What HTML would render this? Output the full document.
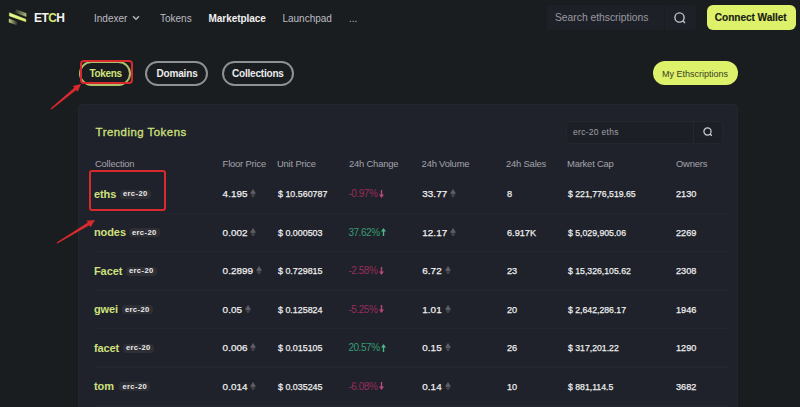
<!DOCTYPE html><html><head><meta charset="utf-8"><style>
*{margin:0;padding:0;box-sizing:border-box}
html,body{width:800px;height:407px;overflow:hidden;background:#1a1d20;font-family:"Liberation Sans",sans-serif}
.t{position:absolute;line-height:1;white-space:nowrap}
.abs{position:absolute}
.eth{position:absolute}
</style></head><body>
<svg class="abs" style="left:7px;top:8px" width="22" height="19" viewBox="0 0 22 19">
<defs>
<linearGradient id="gt" x1="0" y1="0" x2="1" y2="0"><stop offset="0" stop-color="#b8c470" stop-opacity="0.05"/><stop offset="0.5" stop-color="#b8c47a" stop-opacity="0.5"/><stop offset="1" stop-color="#c8d490" stop-opacity="0.8"/></linearGradient>
<linearGradient id="gb" x1="0" y1="0" x2="1" y2="0"><stop offset="0" stop-color="#d8e888" stop-opacity="0.9"/><stop offset="0.6" stop-color="#b0bc7a" stop-opacity="0.5"/><stop offset="1" stop-color="#a8b078" stop-opacity="0.1"/></linearGradient>
<linearGradient id="gm" x1="0" y1="0" x2="1" y2="0"><stop offset="0" stop-color="#eaf890"/><stop offset="1" stop-color="#def270"/></linearGradient>
</defs>
<path d="M9.2 1.8 L19.1 5.4 L19.1 8.4 L7.8 4.2 Z" fill="url(#gt)" stroke="url(#gt)" stroke-width="0.6" stroke-linejoin="round"/>
<path d="M2.4 4.8 L18.9 11.3 L18.9 13.8 L2.3 8.0 Z" fill="url(#gm)" stroke="#e2f47a" stroke-width="0.4" stroke-linejoin="round"/>
<path d="M2.2 10.9 L10.4 14.2 L9.6 16.8 L2.2 14.2 Z" fill="url(#gb)" stroke="url(#gb)" stroke-width="0.6" stroke-linejoin="round"/>
</svg>
<div class="t" style="left:34px;top:11.59px;font-size:12px;color:#f2f2f2;font-weight:700;letter-spacing:-0.6px">ET<span style="color:#d6ea6c">C</span>H</div>
<div class="t" style="left:94px;top:13.54px;font-size:10px;color:#bcbcc1;font-weight:400;">Indexer</div>
<svg class="abs" style="left:132px;top:15.3px" width="8" height="6" viewBox="0 0 8 6"><path d="M1 1.2 L4 4.2 L7 1.2" stroke="#b4b4b9" stroke-width="1.5" fill="none"/></svg>
<div class="t" style="left:160px;top:13.54px;font-size:10px;color:#bcbcc1;font-weight:400;">Tokens</div>
<div class="t" style="left:208.5px;top:13.54px;font-size:10px;color:#f0f0f0;font-weight:700;letter-spacing:-0.05px">Marketplace</div>
<div class="t" style="left:282.4px;top:13.54px;font-size:10px;color:#bcbcc1;font-weight:400;">Launchpad</div>
<div class="t" style="left:349px;top:13.54px;font-size:10px;color:#bcbcc1;font-weight:400;">...</div>
<div class="abs" style="left:547px;top:4.6px;width:149px;height:25.4px;background:#1e2028;border-radius:3px"></div>
<div class="abs" style="left:664px;top:4.6px;width:1px;height:25.4px;background:#1a1c22"></div>
<div class="t" style="left:555px;top:12.88px;font-size:10.3px;color:#9a9aa0;font-weight:400;">Search ethscriptions</div>
<svg class="abs" style="left:673px;top:11px" width="14" height="14" viewBox="0 0 14 14"><circle cx="6.5" cy="6.5" r="4.6" stroke="#c4c4c8" stroke-width="1.4" fill="none"/><path d="M9.8 9.8 L12 12" stroke="#c4c4c8" stroke-width="1.5"/></svg>
<div class="abs" style="left:707px;top:5px;width:89px;height:25px;background:#ddf16a;border-radius:6px"></div>
<div class="t" style="left:714.8px;top:13.35px;font-size:10.1px;color:#191a14;font-weight:700;letter-spacing:-0.05px;-webkit-text-stroke:0.15px #191a14">Connect Wallet</div>
<div class="abs" style="left:79px;top:61px;width:51.5px;height:25.3px;border:2px solid #b0c06a;border-radius:13px"></div>
<div class="t" style="left:89.4px;top:69.13px;font-size:10px;color:#d2e47a;font-weight:700;letter-spacing:-0.3px">Tokens</div>
<div class="abs" style="left:145px;top:60.7px;width:63.2px;height:25.6px;border:2px solid #8f9094;border-radius:13px"></div>
<div class="t" style="left:156.4px;top:68.94px;font-size:10px;color:#ececec;font-weight:700;letter-spacing:-0.15px">Domains</div>
<div class="abs" style="left:221.5px;top:60.7px;width:72.8px;height:25.6px;border:2px solid #8f9094;border-radius:13px"></div>
<div class="t" style="left:232px;top:68.94px;font-size:10px;color:#ececec;font-weight:700;letter-spacing:-0.2px">Collections</div>
<div class="abs" style="left:652.7px;top:61.2px;width:85.6px;height:24.3px;background:#ddf16a;border-radius:12px"></div>
<div class="t" style="left:662px;top:70.08px;font-size:9px;color:#3a4022;font-weight:400;">My Ethscriptions</div>
<div class="abs" style="left:78.2px;top:104px;width:660.3px;height:320px;background:#1f222a;border:1.5px solid #24272f;border-radius:4px"></div>
<div class="t" style="left:95.6px;top:126.55px;font-size:11.4px;color:#cfe07e;font-weight:400;letter-spacing:0.5px;-webkit-text-stroke:0.32px #cfe07e">Trending Tokens</div>
<div class="abs" style="left:566px;top:120.5px;width:156.5px;height:23.3px;background:#1c1f26;border:1px solid #23262d;border-radius:3px"></div>
<div class="abs" style="left:693px;top:121px;width:1px;height:22.5px;background:#262830"></div>
<div class="t" style="left:573px;top:127.80px;font-size:8.5px;color:#a0a1a8;font-weight:400;letter-spacing:0.3px">erc-20 eths</div>
<svg class="abs" style="left:702px;top:126px" width="12" height="12" viewBox="0 0 12 12"><circle cx="5.5" cy="5.5" r="3.6" stroke="#d0d0d4" stroke-width="1.2" fill="none"/><path d="M8 8 L9.8 9.8" stroke="#d0d0d4" stroke-width="1.3"/></svg>
<div class="t" style="left:95px;top:158.94px;font-size:9.4px;color:#a4a4ac;font-weight:400;letter-spacing:-0.18px">Collection</div>
<div class="t" style="left:222.6px;top:158.94px;font-size:9.4px;color:#a4a4ac;font-weight:400;letter-spacing:-0.18px">Floor Price</div>
<div class="t" style="left:277px;top:158.94px;font-size:9.4px;color:#a4a4ac;font-weight:400;letter-spacing:-0.18px">Unit Price</div>
<div class="t" style="left:349px;top:158.94px;font-size:9.4px;color:#a4a4ac;font-weight:400;letter-spacing:-0.18px">24h Change</div>
<div class="t" style="left:421.6px;top:158.94px;font-size:9.4px;color:#a4a4ac;font-weight:400;letter-spacing:-0.18px">24h Volume</div>
<div class="t" style="left:506px;top:158.94px;font-size:9.4px;color:#a4a4ac;font-weight:400;letter-spacing:-0.18px">24h Sales</div>
<div class="t" style="left:567px;top:158.94px;font-size:9.4px;color:#a4a4ac;font-weight:400;letter-spacing:-0.18px">Market Cap</div>
<div class="t" style="left:676px;top:158.94px;font-size:9.4px;color:#a4a4ac;font-weight:400;letter-spacing:-0.18px">Owners</div>
<div class="abs" style="left:95px;top:212.5px;width:633px;height:1.5px;background:#23262e"></div>
<div class="t" style="left:94px;top:188.89px;font-size:11px;color:#cfe07e;font-weight:700;letter-spacing:-0.1px">eths</div>
<div class="abs" style="left:119.5px;top:189.9px;width:31px;height:9px;background:#2e2f35;border-radius:3.5px"></div>
<div class="t" style="left:122.9px;top:190.47px;font-size:7.6px;color:#ececec;font-weight:700;letter-spacing:0.4px">erc-20</div>
<div class="t" style="left:222.6px;top:189.42px;font-size:9.9px;color:#efeff0;font-weight:400;letter-spacing:0.05px;-webkit-text-stroke:0.25px #efeff0">4.195<svg style="display:inline-block;margin-left:2.7px;vertical-align:-0.5px" width="6" height="8.5" viewBox="0 0 6 9"><path d="M3 0 L6 4.6 L3 6.2 L0 4.6 Z" fill="#5c5d63"/><path d="M3 6.8 L6 5.2 L3 9 L0 5.2 Z" fill="#4c4d53"/></svg></div>
<div class="t" style="left:277.6px;top:189.42px;font-size:9.9px;color:#efeff0;font-weight:400;transform:scaleX(0.9);transform-origin:0 0;-webkit-text-stroke:0.25px #efeff0">$ 10.560787</div>
<div class="t" style="left:348.4px;top:189.34px;font-size:10px;color:#982d5c;font-weight:400;letter-spacing:-0.45px">-0.97%<svg style="display:inline-block;margin-left:1.6px;vertical-align:-0.5px" width="5" height="8" viewBox="0 0 5 8"><path d="M1.8 0 H3.2 V4.4 H5 L2.5 8 L0 4.4 H1.8 Z" fill="#b8487c"/></svg></div>
<div class="t" style="left:422.2px;top:189.42px;font-size:9.9px;color:#efeff0;font-weight:400;letter-spacing:0.1px;-webkit-text-stroke:0.25px #efeff0">33.77<svg style="display:inline-block;margin-left:2.7px;vertical-align:-0.5px" width="6" height="8.5" viewBox="0 0 6 9"><path d="M3 0 L6 4.6 L3 6.2 L0 4.6 Z" fill="#5c5d63"/><path d="M3 6.8 L6 5.2 L3 9 L0 5.2 Z" fill="#4c4d53"/></svg></div>
<div class="t" style="left:506.6px;top:189.42px;font-size:9.9px;color:#efeff0;font-weight:400;transform:scaleX(0.927);transform-origin:0 0;-webkit-text-stroke:0.25px #efeff0">8</div>
<div class="t" style="left:568.2px;top:189.42px;font-size:9.9px;color:#efeff0;font-weight:400;transform:scaleX(0.88);transform-origin:0 0;-webkit-text-stroke:0.25px #efeff0">$ 221,776,519.65</div>
<div class="t" style="left:675.8px;top:189.42px;font-size:9.9px;color:#efeff0;font-weight:400;transform:scaleX(0.927);transform-origin:0 0;-webkit-text-stroke:0.25px #efeff0">2130</div>
<div class="abs" style="left:95px;top:250.8px;width:633px;height:1.5px;background:#23262e"></div>
<div class="t" style="left:94px;top:227.19px;font-size:11px;color:#cfe07e;font-weight:700;letter-spacing:-0.1px">nodes</div>
<div class="abs" style="left:128.5px;top:228.20000000000002px;width:31px;height:9px;background:#2e2f35;border-radius:3.5px"></div>
<div class="t" style="left:131.9px;top:228.77px;font-size:7.6px;color:#ececec;font-weight:700;letter-spacing:0.4px">erc-20</div>
<div class="t" style="left:222.6px;top:227.72px;font-size:9.9px;color:#efeff0;font-weight:400;letter-spacing:0.05px;-webkit-text-stroke:0.25px #efeff0">0.002<svg style="display:inline-block;margin-left:2.7px;vertical-align:-0.5px" width="6" height="8.5" viewBox="0 0 6 9"><path d="M3 0 L6 4.6 L3 6.2 L0 4.6 Z" fill="#5c5d63"/><path d="M3 6.8 L6 5.2 L3 9 L0 5.2 Z" fill="#4c4d53"/></svg></div>
<div class="t" style="left:277.6px;top:227.72px;font-size:9.9px;color:#efeff0;font-weight:400;transform:scaleX(0.9);transform-origin:0 0;-webkit-text-stroke:0.25px #efeff0">$ 0.000503</div>
<div class="t" style="left:348.4px;top:227.64px;font-size:10px;color:#369c74;font-weight:400;letter-spacing:-0.45px">37.62%<svg style="display:inline-block;margin-left:1.6px;vertical-align:-0.5px" width="5" height="8" viewBox="0 0 5 8"><path d="M1.8 8 H3.2 V3.6 H5 L2.5 0 L0 3.6 H1.8 Z" fill="#48b888"/></svg></div>
<div class="t" style="left:422.2px;top:227.72px;font-size:9.9px;color:#efeff0;font-weight:400;letter-spacing:0.1px;-webkit-text-stroke:0.25px #efeff0">12.17<svg style="display:inline-block;margin-left:2.7px;vertical-align:-0.5px" width="6" height="8.5" viewBox="0 0 6 9"><path d="M3 0 L6 4.6 L3 6.2 L0 4.6 Z" fill="#5c5d63"/><path d="M3 6.8 L6 5.2 L3 9 L0 5.2 Z" fill="#4c4d53"/></svg></div>
<div class="t" style="left:506.6px;top:227.72px;font-size:9.9px;color:#efeff0;font-weight:400;transform:scaleX(0.927);transform-origin:0 0;-webkit-text-stroke:0.25px #efeff0">6.917K</div>
<div class="t" style="left:568.2px;top:227.72px;font-size:9.9px;color:#efeff0;font-weight:400;transform:scaleX(0.88);transform-origin:0 0;-webkit-text-stroke:0.25px #efeff0">$ 5,029,905.06</div>
<div class="t" style="left:675.8px;top:227.72px;font-size:9.9px;color:#efeff0;font-weight:400;transform:scaleX(0.927);transform-origin:0 0;-webkit-text-stroke:0.25px #efeff0">2269</div>
<div class="abs" style="left:95px;top:289.4px;width:633px;height:1.5px;background:#23262e"></div>
<div class="t" style="left:94px;top:265.79px;font-size:11px;color:#cfe07e;font-weight:700;letter-spacing:-0.1px">Facet</div>
<div class="abs" style="left:125.5px;top:266.79999999999995px;width:31px;height:9px;background:#2e2f35;border-radius:3.5px"></div>
<div class="t" style="left:128.9px;top:267.37px;font-size:7.6px;color:#ececec;font-weight:700;letter-spacing:0.4px">erc-20</div>
<div class="t" style="left:222.6px;top:266.32px;font-size:9.9px;color:#efeff0;font-weight:400;letter-spacing:0.05px;-webkit-text-stroke:0.25px #efeff0">0.2899<svg style="display:inline-block;margin-left:2.7px;vertical-align:-0.5px" width="6" height="8.5" viewBox="0 0 6 9"><path d="M3 0 L6 4.6 L3 6.2 L0 4.6 Z" fill="#5c5d63"/><path d="M3 6.8 L6 5.2 L3 9 L0 5.2 Z" fill="#4c4d53"/></svg></div>
<div class="t" style="left:277.6px;top:266.32px;font-size:9.9px;color:#efeff0;font-weight:400;transform:scaleX(0.9);transform-origin:0 0;-webkit-text-stroke:0.25px #efeff0">$ 0.729815</div>
<div class="t" style="left:348.4px;top:266.24px;font-size:10px;color:#982d5c;font-weight:400;letter-spacing:-0.45px">-2.58%<svg style="display:inline-block;margin-left:1.6px;vertical-align:-0.5px" width="5" height="8" viewBox="0 0 5 8"><path d="M1.8 0 H3.2 V4.4 H5 L2.5 8 L0 4.4 H1.8 Z" fill="#b8487c"/></svg></div>
<div class="t" style="left:422.2px;top:266.32px;font-size:9.9px;color:#efeff0;font-weight:400;letter-spacing:0.1px;-webkit-text-stroke:0.25px #efeff0">6.72<svg style="display:inline-block;margin-left:2.7px;vertical-align:-0.5px" width="6" height="8.5" viewBox="0 0 6 9"><path d="M3 0 L6 4.6 L3 6.2 L0 4.6 Z" fill="#5c5d63"/><path d="M3 6.8 L6 5.2 L3 9 L0 5.2 Z" fill="#4c4d53"/></svg></div>
<div class="t" style="left:506.6px;top:266.32px;font-size:9.9px;color:#efeff0;font-weight:400;transform:scaleX(0.927);transform-origin:0 0;-webkit-text-stroke:0.25px #efeff0">23</div>
<div class="t" style="left:568.2px;top:266.32px;font-size:9.9px;color:#efeff0;font-weight:400;transform:scaleX(0.88);transform-origin:0 0;-webkit-text-stroke:0.25px #efeff0">$ 15,326,105.62</div>
<div class="t" style="left:675.8px;top:266.32px;font-size:9.9px;color:#efeff0;font-weight:400;transform:scaleX(0.927);transform-origin:0 0;-webkit-text-stroke:0.25px #efeff0">2308</div>
<div class="abs" style="left:95px;top:327.8px;width:633px;height:1.5px;background:#23262e"></div>
<div class="t" style="left:94px;top:304.19px;font-size:11px;color:#cfe07e;font-weight:700;letter-spacing:-0.1px">gwei</div>
<div class="abs" style="left:121.5px;top:305.2px;width:31px;height:9px;background:#2e2f35;border-radius:3.5px"></div>
<div class="t" style="left:124.9px;top:305.77px;font-size:7.6px;color:#ececec;font-weight:700;letter-spacing:0.4px">erc-20</div>
<div class="t" style="left:222.6px;top:304.72px;font-size:9.9px;color:#efeff0;font-weight:400;letter-spacing:0.05px;-webkit-text-stroke:0.25px #efeff0">0.05<svg style="display:inline-block;margin-left:2.7px;vertical-align:-0.5px" width="6" height="8.5" viewBox="0 0 6 9"><path d="M3 0 L6 4.6 L3 6.2 L0 4.6 Z" fill="#5c5d63"/><path d="M3 6.8 L6 5.2 L3 9 L0 5.2 Z" fill="#4c4d53"/></svg></div>
<div class="t" style="left:277.6px;top:304.72px;font-size:9.9px;color:#efeff0;font-weight:400;transform:scaleX(0.9);transform-origin:0 0;-webkit-text-stroke:0.25px #efeff0">$ 0.125824</div>
<div class="t" style="left:348.4px;top:304.64px;font-size:10px;color:#982d5c;font-weight:400;letter-spacing:-0.45px">-5.25%<svg style="display:inline-block;margin-left:1.6px;vertical-align:-0.5px" width="5" height="8" viewBox="0 0 5 8"><path d="M1.8 0 H3.2 V4.4 H5 L2.5 8 L0 4.4 H1.8 Z" fill="#b8487c"/></svg></div>
<div class="t" style="left:422.2px;top:304.72px;font-size:9.9px;color:#efeff0;font-weight:400;letter-spacing:0.1px;-webkit-text-stroke:0.25px #efeff0">1.01<svg style="display:inline-block;margin-left:2.7px;vertical-align:-0.5px" width="6" height="8.5" viewBox="0 0 6 9"><path d="M3 0 L6 4.6 L3 6.2 L0 4.6 Z" fill="#5c5d63"/><path d="M3 6.8 L6 5.2 L3 9 L0 5.2 Z" fill="#4c4d53"/></svg></div>
<div class="t" style="left:506.6px;top:304.72px;font-size:9.9px;color:#efeff0;font-weight:400;transform:scaleX(0.927);transform-origin:0 0;-webkit-text-stroke:0.25px #efeff0">20</div>
<div class="t" style="left:568.2px;top:304.72px;font-size:9.9px;color:#efeff0;font-weight:400;transform:scaleX(0.88);transform-origin:0 0;-webkit-text-stroke:0.25px #efeff0">$ 2,642,286.17</div>
<div class="t" style="left:675.8px;top:304.72px;font-size:9.9px;color:#efeff0;font-weight:400;transform:scaleX(0.927);transform-origin:0 0;-webkit-text-stroke:0.25px #efeff0">1946</div>
<div class="abs" style="left:95px;top:366.3px;width:633px;height:1.5px;background:#23262e"></div>
<div class="t" style="left:94px;top:342.69px;font-size:11px;color:#cfe07e;font-weight:700;letter-spacing:-0.1px">facet</div>
<div class="abs" style="left:122.5px;top:343.7px;width:31px;height:9px;background:#2e2f35;border-radius:3.5px"></div>
<div class="t" style="left:125.9px;top:344.27px;font-size:7.6px;color:#ececec;font-weight:700;letter-spacing:0.4px">erc-20</div>
<div class="t" style="left:222.6px;top:343.22px;font-size:9.9px;color:#efeff0;font-weight:400;letter-spacing:0.05px;-webkit-text-stroke:0.25px #efeff0">0.006<svg style="display:inline-block;margin-left:2.7px;vertical-align:-0.5px" width="6" height="8.5" viewBox="0 0 6 9"><path d="M3 0 L6 4.6 L3 6.2 L0 4.6 Z" fill="#5c5d63"/><path d="M3 6.8 L6 5.2 L3 9 L0 5.2 Z" fill="#4c4d53"/></svg></div>
<div class="t" style="left:277.6px;top:343.22px;font-size:9.9px;color:#efeff0;font-weight:400;transform:scaleX(0.9);transform-origin:0 0;-webkit-text-stroke:0.25px #efeff0">$ 0.015105</div>
<div class="t" style="left:348.4px;top:343.14px;font-size:10px;color:#369c74;font-weight:400;letter-spacing:-0.45px">20.57%<svg style="display:inline-block;margin-left:1.6px;vertical-align:-0.5px" width="5" height="8" viewBox="0 0 5 8"><path d="M1.8 8 H3.2 V3.6 H5 L2.5 0 L0 3.6 H1.8 Z" fill="#48b888"/></svg></div>
<div class="t" style="left:422.2px;top:343.22px;font-size:9.9px;color:#efeff0;font-weight:400;letter-spacing:0.1px;-webkit-text-stroke:0.25px #efeff0">0.15<svg style="display:inline-block;margin-left:2.7px;vertical-align:-0.5px" width="6" height="8.5" viewBox="0 0 6 9"><path d="M3 0 L6 4.6 L3 6.2 L0 4.6 Z" fill="#5c5d63"/><path d="M3 6.8 L6 5.2 L3 9 L0 5.2 Z" fill="#4c4d53"/></svg></div>
<div class="t" style="left:506.6px;top:343.22px;font-size:9.9px;color:#efeff0;font-weight:400;transform:scaleX(0.927);transform-origin:0 0;-webkit-text-stroke:0.25px #efeff0">26</div>
<div class="t" style="left:568.2px;top:343.22px;font-size:9.9px;color:#efeff0;font-weight:400;transform:scaleX(0.88);transform-origin:0 0;-webkit-text-stroke:0.25px #efeff0">$ 317,201.22</div>
<div class="t" style="left:675.8px;top:343.22px;font-size:9.9px;color:#efeff0;font-weight:400;transform:scaleX(0.927);transform-origin:0 0;-webkit-text-stroke:0.25px #efeff0">1290</div>
<div class="abs" style="left:95px;top:405.0px;width:633px;height:1.5px;background:#23262e"></div>
<div class="t" style="left:94px;top:381.39px;font-size:11px;color:#cfe07e;font-weight:700;letter-spacing:-0.1px">tom</div>
<div class="abs" style="left:119.0px;top:382.4px;width:31px;height:9px;background:#2e2f35;border-radius:3.5px"></div>
<div class="t" style="left:122.4px;top:382.97px;font-size:7.6px;color:#ececec;font-weight:700;letter-spacing:0.4px">erc-20</div>
<div class="t" style="left:222.6px;top:381.92px;font-size:9.9px;color:#efeff0;font-weight:400;letter-spacing:0.05px;-webkit-text-stroke:0.25px #efeff0">0.014<svg style="display:inline-block;margin-left:2.7px;vertical-align:-0.5px" width="6" height="8.5" viewBox="0 0 6 9"><path d="M3 0 L6 4.6 L3 6.2 L0 4.6 Z" fill="#5c5d63"/><path d="M3 6.8 L6 5.2 L3 9 L0 5.2 Z" fill="#4c4d53"/></svg></div>
<div class="t" style="left:277.6px;top:381.92px;font-size:9.9px;color:#efeff0;font-weight:400;transform:scaleX(0.9);transform-origin:0 0;-webkit-text-stroke:0.25px #efeff0">$ 0.035245</div>
<div class="t" style="left:348.4px;top:381.84px;font-size:10px;color:#982d5c;font-weight:400;letter-spacing:-0.45px">-6.08%<svg style="display:inline-block;margin-left:1.6px;vertical-align:-0.5px" width="5" height="8" viewBox="0 0 5 8"><path d="M1.8 0 H3.2 V4.4 H5 L2.5 8 L0 4.4 H1.8 Z" fill="#b8487c"/></svg></div>
<div class="t" style="left:422.2px;top:381.92px;font-size:9.9px;color:#efeff0;font-weight:400;letter-spacing:0.1px;-webkit-text-stroke:0.25px #efeff0">0.14<svg style="display:inline-block;margin-left:2.7px;vertical-align:-0.5px" width="6" height="8.5" viewBox="0 0 6 9"><path d="M3 0 L6 4.6 L3 6.2 L0 4.6 Z" fill="#5c5d63"/><path d="M3 6.8 L6 5.2 L3 9 L0 5.2 Z" fill="#4c4d53"/></svg></div>
<div class="t" style="left:506.6px;top:381.92px;font-size:9.9px;color:#efeff0;font-weight:400;transform:scaleX(0.927);transform-origin:0 0;-webkit-text-stroke:0.25px #efeff0">10</div>
<div class="t" style="left:568.2px;top:381.92px;font-size:9.9px;color:#efeff0;font-weight:400;transform:scaleX(0.88);transform-origin:0 0;-webkit-text-stroke:0.25px #efeff0">$ 881,114.5</div>
<div class="t" style="left:675.8px;top:381.92px;font-size:9.9px;color:#efeff0;font-weight:400;transform:scaleX(0.927);transform-origin:0 0;-webkit-text-stroke:0.25px #efeff0">3682</div>
<div class="abs" style="left:79.5px;top:60px;width:53.2px;height:24px;border:2.3px solid #d82a2c;border-radius:4px"></div>
<div class="abs" style="left:88.7px;top:170.3px;width:77.8px;height:40.5px;border:2.4px solid #d82a2c;border-radius:3px"></div>
<svg class="abs" style="left:0;top:0" width="800" height="407"><path d="M51.45 109.54 L76.20 89.95 L77.67 91.72 L81.00 84.00 L72.81 85.88 L74.28 87.65 L50.55 108.46 Z" fill="#d82a2c"/><path d="M57.36 243.60 L89.36 225.17 L90.55 227.13 L95.00 220.00 L86.62 220.63 L87.81 222.60 L56.64 242.40 Z" fill="#d82a2c"/></svg>
</body></html>
